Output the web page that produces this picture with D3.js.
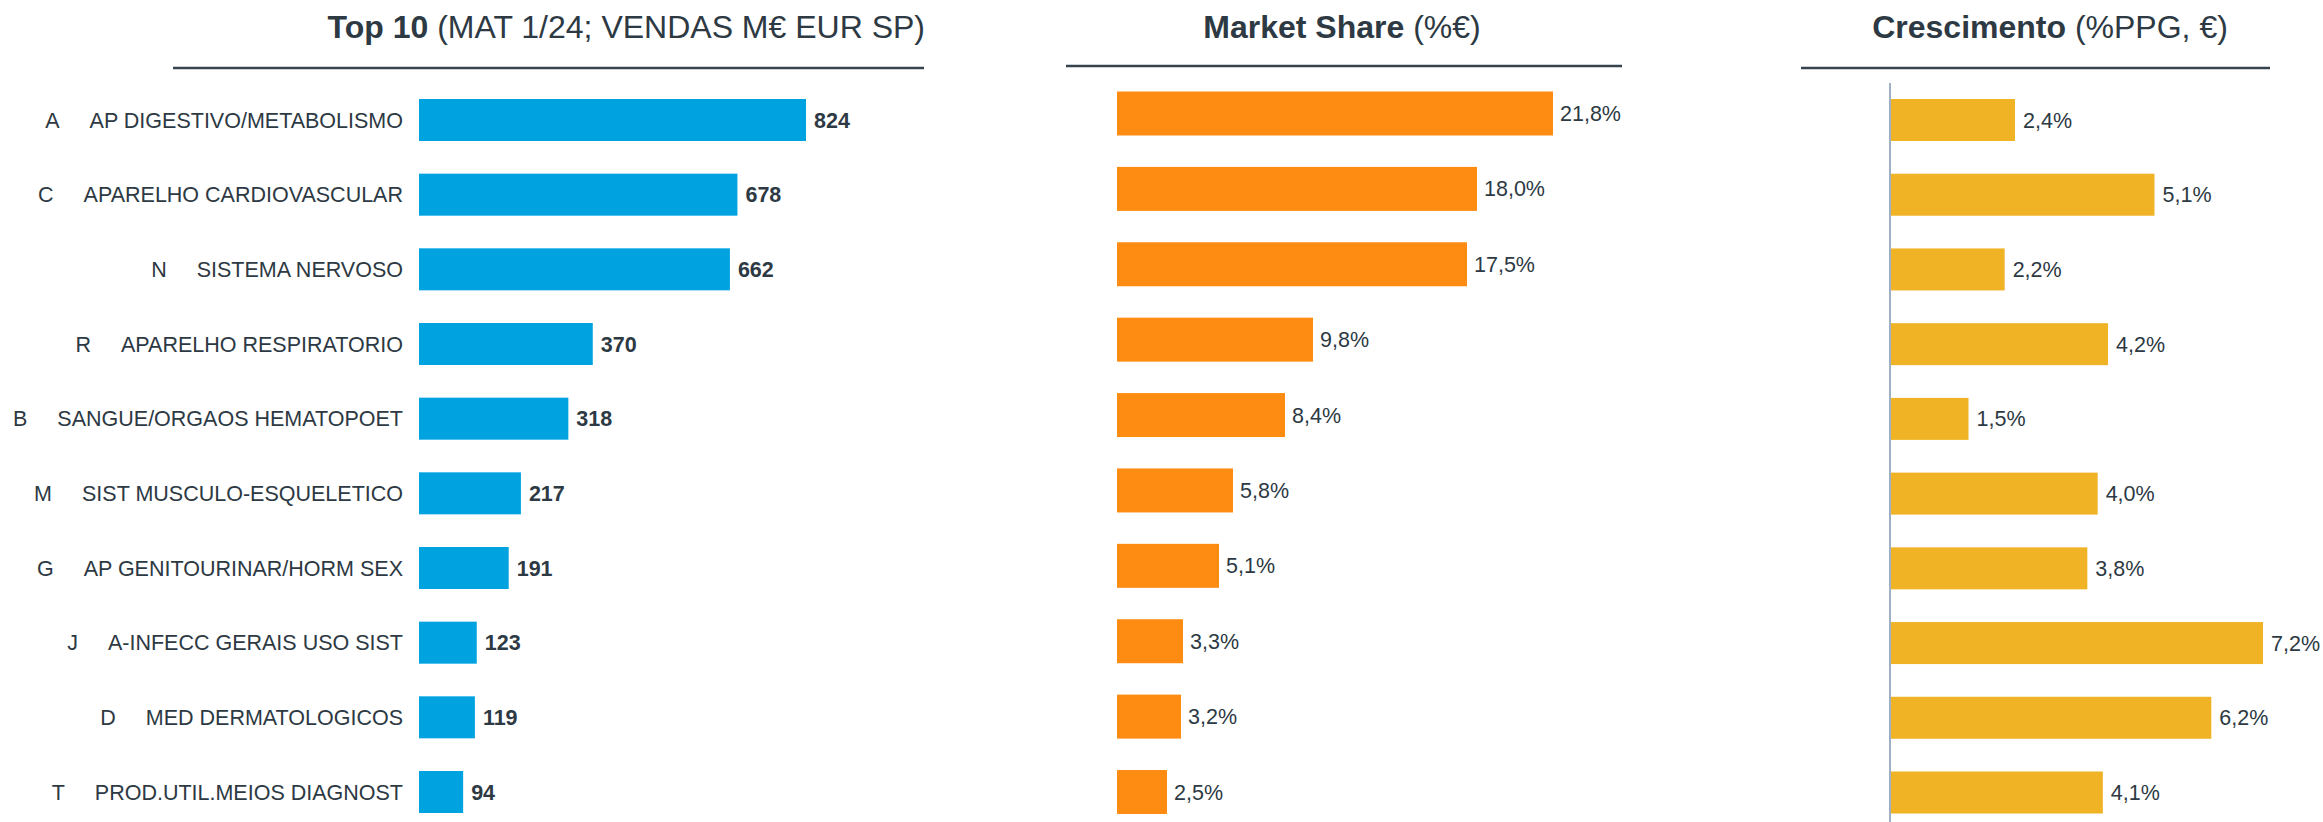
<!DOCTYPE html>
<html>
<head>
<meta charset="utf-8">
<script src="https://cdn.jsdelivr.net/npm/d3@7"></script>
<style>
  body { margin: 0; background: #fff; }
  svg text { font-family: "Liberation Sans", Arial, sans-serif; fill: #2d3943; }
</style>
</head>
<body>
<script>
// data
var codes = ["A", "C", "N", "R", "B", "M", "G", "J", "D", "T"];
var names = ["AP DIGESTIVO/METABOLISMO", "APARELHO CARDIOVASCULAR", "SISTEMA NERVOSO",
  "APARELHO RESPIRATORIO", "SANGUE/ORGAOS HEMATOPOET", "SIST MUSCULO-ESQUELETICO",
  "AP GENITOURINAR/HORM SEX", "A-INFECC GERAIS USO SIST", "MED DERMATOLOGICOS",
  "PROD.UTIL.MEIOS DIAGNOST"];
var sales = [824, 678, 662, 370, 318, 217, 191, 123, 119, 94];
var share = [21.8, 18.0, 17.5, 9.8, 8.4, 5.8, 5.1, 3.3, 3.2, 2.5];
var growth = [2.4, 5.1, 2.2, 4.2, 1.5, 4.0, 3.8, 7.2, 6.2, 4.1];

var W = 2323, H = 822;
var svg = d3.select("body").append("svg")
  .attr("width", W).attr("height", H);

var fmt = function(v){ return d3.format(".1f")(v).replace(".", ",") + "%"; };

// band scale helper: first/last bar centre and bar height
function band(c0, c1, bh) {
  var step = (c1 - c0) / (codes.length - 1);
  var pi = 1 - bh / step;
  return d3.scaleBand().domain(codes)
    .range([c0 - step / 2, c1 + step / 2])
    .paddingInner(pi).paddingOuter(pi / 2);
}

// titles + rules
function title(bold, rest, x, anchor, rx0, rx1, ry) {
  var t = svg.append("text").attr("x", x).attr("y", 38)
    .attr("text-anchor", anchor).style("font-size", "32px");
  t.append("tspan").style("font-weight", "bold").text(bold);
  t.append("tspan").text(rest);
  svg.append("line").attr("x1", rx0).attr("x2", rx1).attr("y1", ry).attr("y2", ry)
    .attr("stroke", "#37434d").attr("stroke-width", 2.5);
}
title("Top 10", " (MAT 1/24; VENDAS M€ EUR SP)", 925, "end", 173, 924, 68);
title("Market Share", " (%€)", 1342, "middle", 1066, 1622, 66);
title("Crescimento", " (%PPG, €)", 2050, "middle", 1801, 2270, 68);

// panel 1: sales
var y1 = band(120, 792, 42);
var x1 = d3.scaleLinear().domain([0, 824]).range([419, 806]);
var g1 = svg.append("g");
g1.selectAll("rect").data(sales).enter().append("rect")
  .attr("x", x1(0))
  .attr("y", function(d, i){ return y1(codes[i]); })
  .attr("width", function(d){ return x1(d) - x1(0); })
  .attr("height", y1.bandwidth())
  .attr("fill", "#00a3e0");
g1.selectAll("text.val").data(sales).enter().append("text")
  .attr("class", "val")
  .attr("x", function(d){ return x1(d) + 8; })
  .attr("y", function(d, i){ return y1(codes[i]) + y1.bandwidth() / 2; })
  .attr("dy", "0.35em")
  .style("font-size", "21.5px").style("font-weight", "bold")
  .text(function(d){ return d; });
var lab = g1.selectAll("text.cat").data(codes).enter().append("text")
  .attr("class", "cat")
  .attr("x", 403)
  .attr("y", function(d){ return y1(d) + y1.bandwidth() / 2; })
  .attr("dy", "0.35em")
  .attr("text-anchor", "end")
  .style("font-size", "21.5px");
lab.append("tspan").text(function(d){ return d; });
lab.append("tspan").attr("dx", 30).text(function(d, i){ return names[i]; });

// panel 2: market share
var y2 = band(113.5, 792, 44);
var x2 = d3.scaleLinear().domain([0, 21.8]).range([1117, 1553]);
var g2 = svg.append("g");
g2.selectAll("rect").data(share).enter().append("rect")
  .attr("x", x2(0))
  .attr("y", function(d, i){ return y2(codes[i]); })
  .attr("width", function(d){ return x2(d) - x2(0); })
  .attr("height", y2.bandwidth())
  .attr("fill", "#ff8c12");
g2.selectAll("text").data(share).enter().append("text")
  .attr("x", function(d){ return x2(d) + 7; })
  .attr("y", function(d, i){ return y2(codes[i]) + y2.bandwidth() / 2; })
  .attr("dy", "0.35em")
  .style("font-size", "21.5px")
  .text(fmt);

// panel 3: growth
var y3 = band(120, 792.5, 42);
var x3 = d3.scaleLinear().domain([0, 7.2]).range([1891, 2263]);
var g3 = svg.append("g");
g3.selectAll("rect").data(growth).enter().append("rect")
  .attr("x", x3(0))
  .attr("y", function(d, i){ return y3(codes[i]); })
  .attr("width", function(d){ return x3(d) - x3(0); })
  .attr("height", y3.bandwidth())
  .attr("fill", "#f0b326");
g3.selectAll("text").data(growth).enter().append("text")
  .attr("x", function(d){ return x3(d) + 8; })
  .attr("y", function(d, i){ return y3(codes[i]) + y3.bandwidth() / 2; })
  .attr("dy", "0.35em")
  .style("font-size", "21.5px")
  .text(fmt);
g3.append("line")
  .attr("x1", x3(0) - 1).attr("x2", x3(0) - 1)
  .attr("y1", 83).attr("y2", H)
  .attr("stroke", "#7f95b0").attr("stroke-width", 1.5);
</script>
</body>
</html>
